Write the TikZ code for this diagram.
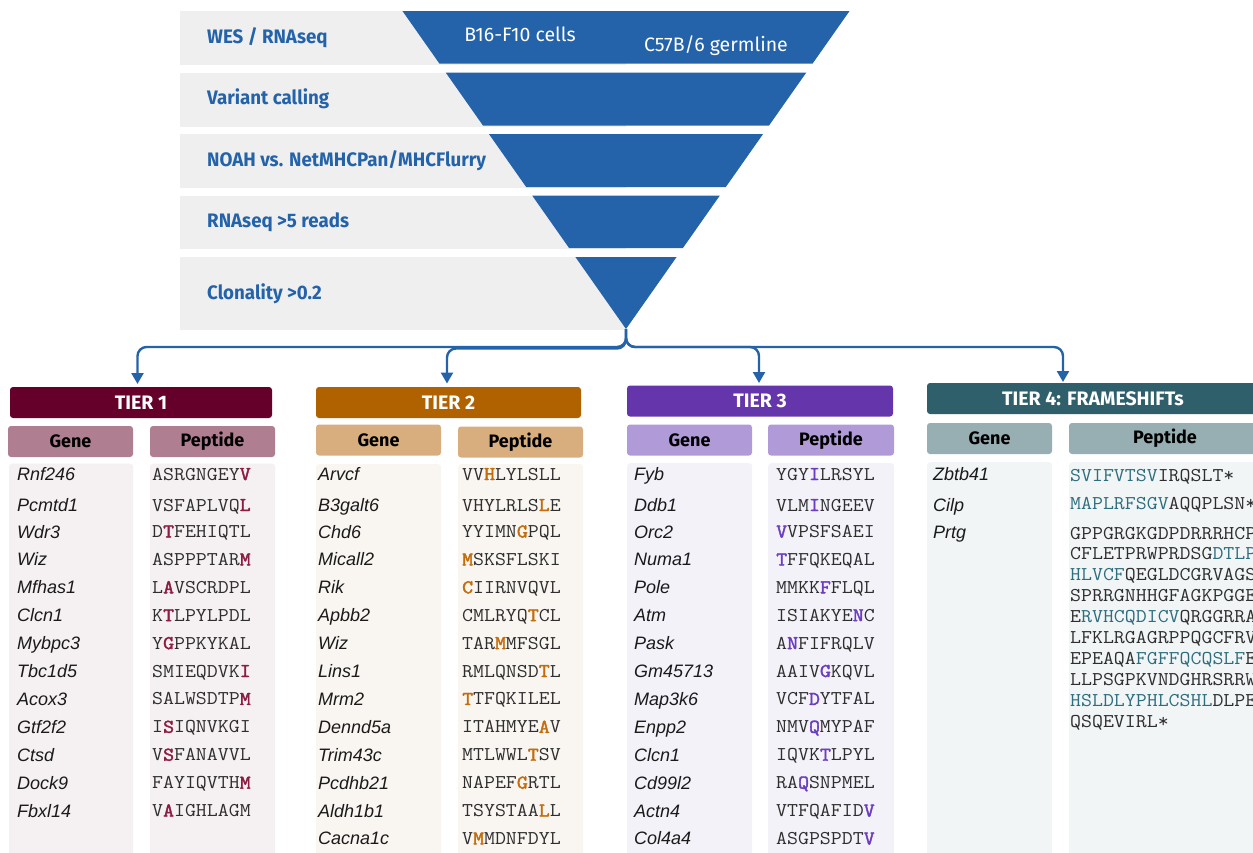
\documentclass[tikz,border=0pt]{standalone}
\usepackage{fontspec}
\setmainfont{Liberation Sans}
\newfontfamily\condfont[FakeStretch=0.96]{Fira Sans}
\newfontfamily\hdrfont{Fira Sans}
\newfontfamily\pepfont[FakeStretch=1.09]{Latin Modern Mono}
\newfontfamily\pepbfont[FakeStretch=1.09,FakeBold=2]{Latin Modern Mono}
\usetikzlibrary{arrows.meta}
\definecolor{fblue}{HTML}{2463A9}
\definecolor{bandgray}{HTML}{EFEFEF}
\definecolor{tAd}{HTML}{65002B}
\definecolor{tAh}{HTML}{B07E91}
\definecolor{tAb}{HTML}{F5F0F2}
\definecolor{tAx}{HTML}{8C1C41}
\definecolor{tBd}{HTML}{B06200}
\definecolor{tBh}{HTML}{D8AE7E}
\definecolor{tBb}{HTML}{F9F6F2}
\definecolor{tBx}{HTML}{C46C0C}
\definecolor{tCd}{HTML}{6535AB}
\definecolor{tCh}{HTML}{B09AD7}
\definecolor{tCb}{HTML}{F4F2F9}
\definecolor{tCx}{HTML}{6B3DC0}
\definecolor{tDd}{HTML}{2F5F6A}
\definecolor{tDh}{HTML}{97AEB2}
\definecolor{tDb}{HTML}{F1F5F6}
\definecolor{tDx}{HTML}{2E6D7D}
\definecolor{genetxt}{HTML}{1A1A1A}
\definecolor{peptxt}{HTML}{2E2E2E}
\newcommand\hlA[1]{{\pepbfont\color{tAx}#1}}
\newcommand\hlB[1]{{\pepbfont\color{tBx}#1}}
\newcommand\hlC[1]{{\pepbfont\color{tCx}#1}}
\newcommand\hlD[1]{{\color{tDx}#1}}
\tikzset{
  tierhdr/.style={rounded corners=3pt, minimum height=31pt, inner sep=0pt, text=white,
    font=\hdrfont\bfseries\fontsize{19.5}{22}\selectfont},
  colhdr/.style={rounded corners=3pt, minimum height=31pt, inner sep=0pt, text=black,
    font=\hdrfont\bfseries\fontsize{18}{20}\selectfont},
  bodybox/.style={rounded corners=3pt, anchor=north west, inner sep=0pt, minimum height=400pt},
  gene/.style={anchor=base west, inner sep=0pt, text=genetxt, font=\itshape\fontsize{18}{20}\selectfont},
  pep/.style={anchor=base west, inner sep=0pt, text=peptxt, font=\pepfont\fontsize{19.5}{21}\selectfont},
  flabel/.style={anchor=west, inner sep=0pt, text=fblue, font=\condfont\bfseries\fontsize{19.5}{22}\selectfont},
  finner/.style={inner sep=0pt, text=white, font=\hdrfont\fontsize{19.5}{22}\selectfont},
  conn/.style={draw=fblue, line width=2.4pt, rounded corners=9pt, -{Triangle[width=12pt,length=11pt]}}
}
\begin{document}
\begin{tikzpicture}[x=1pt,y=-1pt]
\useasboundingbox (0,0) rectangle (1253,852);
\begin{scope}
\clip (0,0) rectangle (1253,852);
% funnel
\foreach \t/\b in {11/63.5,72.5/125.5,134/187,195.5/248,257/329}{
  \fill[bandgray] (180,\t) rectangle (626,\b+1);
  \pgfmathsetmacro\lt{626-(329-\t)*0.703}
  \pgfmathsetmacro\rt{626+(329-\t)*0.703}
  \pgfmathsetmacro\lb{626-(329-\b)*0.703}
  \pgfmathsetmacro\rb{626+(329-\b)*0.703}
  \fill[fblue] (\lt,\t) -- (\rt,\t) -- (\rb,\b) -- (\lb,\b) -- cycle;
}
\coordinate (apex) at (626,329);
\node[flabel] (f1) at (207,38) {WES / RNAseq};
\node[flabel] (f2) at (207,99) {Variant calling};
\node[flabel] (f3) at (207,161) {NOAH vs. NetMHCPan/MHCFlurry};
\node[flabel] (f4) at (207,222) {RNAseq >5 reads};
\node[flabel] (f5) at (207,294) {Clonality >0.2};
\node[finner] (c1) at (520,34) {B16-F10 cells};
\node[finner] (c2) at (716,46) {C57B/6 germline};

% tier headers
\node[tierhdr, fill=tAd, minimum width=262pt] (t1) at (141,402.5) {TIER 1};
\node[tierhdr, fill=tBd, minimum width=265pt] (t2) at (448.5,402.5) {TIER 2};
\node[tierhdr, fill=tCd, minimum width=266pt] (t3) at (760,401) {TIER 3};
\node[tierhdr, fill=tDd, minimum width=332pt] (t4) at (1093,398.5) {TIER 4: FRAMESHIFTs};

% connectors
\coordinate (a1) at (137.5,384);
\coordinate (a2) at (447,383.5);
\coordinate (a3) at (759,383);
\coordinate (a4) at (1063,382);
\draw[conn] (apex) -- ++(0,18) -| (a1);
\draw[conn] (apex) -- ++(0,19.5) -| (a2);
\draw[conn] (apex) -- ++(0,18) -| (a3);
\draw[conn] (apex) -- ++(0,18) -| (a4);

% column headers
\node[colhdr, fill=tAh, minimum width=125pt] (g1h) at (70.5,441.5) {Gene};
\node[colhdr, fill=tAh, minimum width=125pt] (p1h) at (212.5,441.5) {Peptide};
\node[colhdr, fill=tBh, minimum width=125pt] (g2h) at (378.5,440) {Gene};
\node[colhdr, fill=tBh, minimum width=125pt] (p2h) at (520.5,442) {Peptide};
\node[colhdr, fill=tCh, minimum width=125pt] (g3h) at (689.5,440) {Gene};
\node[colhdr, fill=tCh, minimum width=126pt] (p3h) at (831,440) {Peptide};
\node[colhdr, fill=tDh, minimum width=125pt] (g4h) at (989.5,438.5) {Gene};
\node[colhdr, fill=tDh, minimum width=192pt] (p4h) at (1165,438.5) {Peptide};

% bodies
\node[bodybox, fill=tAb, minimum width=124pt] (g1b) at (9,463.5) {};
\node[bodybox, fill=tAb, minimum width=125pt] (p1b) at (150,463.5) {};
\node[bodybox, fill=tBb, minimum width=125pt] (g2b) at (316,464) {};
\node[bodybox, fill=tBb, minimum width=125pt] (p2b) at (458,464) {};
\node[bodybox, fill=tCb, minimum width=125pt] (g3b) at (627,463) {};
\node[bodybox, fill=tCb, minimum width=126pt] (p3b) at (768,463) {};
\node[bodybox, fill=tDb, minimum width=125pt] (g4b) at (927,462) {};
\node[bodybox, fill=tDb, minimum width=192pt] (p4b) at (1069,462) {};

% tier 1 rows
\foreach \g/\p [count=\i] in {Rnf246/ASRGNGEY\hlA{V},Pcmtd1/VSFAPLVQ\hlA{L},Wdr3/D\hlA{T}FEHIQTL,
  Wiz/ASPPPTAR\hlA{M},Mfhas1/L\hlA{A}VSCRDPL,Clcn1/K\hlA{T}LPYLPDL,Mybpc3/Y\hlA{G}PPKYKAL,
  Tbc1d5/SMIEQDVK\hlA{I},Acox3/SALWSDTP\hlA{M},Gtf2f2/I\hlA{S}IQNVKGI,Ctsd/V\hlA{S}FANAVVL,
  Dock9/FAYIQVTH\hlA{M},Fbxl14/V\hlA{A}IGHLAGM}{
  \pgfmathsetmacro\yy{\i==1?474:(\i==2?505:531.5+27.9*(\i-3))}
  \node[gene] (g1r\i) at (17,\yy+6.5) {\g};
  \node[pep] (p1r\i) at (152,\yy+6) {\p};
}
% tier 2 rows
\foreach \g/\p [count=\i] in {Arvcf/VV\hlB{H}LYLSLL,B3galt6/VHYLRLS\hlB{L}E,Chd6/YYIMN\hlB{G}PQL,
  Micall2/\hlB{M}SKSFLSKI,Rik/\hlB{C}IIRNVQVL,Apbb2/CMLRYQ\hlB{T}CL,Wiz/TAR\hlB{M}MFSGL,
  Lins1/RMLQNSD\hlB{T}L,Mrm2/\hlB{T}TFQKILEL,Dennd5a/ITAHMYE\hlB{A}V,Trim43c/MTLWWL\hlB{T}SV,
  Pcdhb21/NAPEF\hlB{G}RTL,Aldh1b1/TSYSTAA\hlB{L}L,Cacna1c/V\hlB{M}MDNFDYL}{
  \pgfmathsetmacro\yy{\i==1?474:(\i==2?505:531.5+27.9*(\i-3))}
  \node[gene] (g2r\i) at (318,\yy+6.5) {\g};
  \node[pep] (p2r\i) at (462,\yy+6) {\p};
}
% tier 3 rows
\foreach \g/\p [count=\i] in {Fyb/YGY\hlC{I}LRSYL,Ddb1/VLM\hlC{I}NGEEV,Orc2/\hlC{V}VPSFSAEI,
  Numa1/\hlC{T}FFQKEQAL,Pole/MMKK\hlC{F}FLQL,Atm/ISIAKYE\hlC{N}C,Pask/A\hlC{N}FIFRQLV,
  Gm45713/AAIV\hlC{G}KQVL,Map3k6/VCF\hlC{D}YTFAL,Enpp2/NMV\hlC{Q}MYPAF,Clcn1/IQVK\hlC{T}LPYL,
  Cd99l2/RA\hlC{Q}SNPMEL,Actn4/VTFQAFID\hlC{V},Col4a4/ASGPSPDT\hlC{V}}{
  \pgfmathsetmacro\yy{\i==1?474:(\i==2?505:531.5+27.9*(\i-3))}
  \node[gene] (g3r\i) at (634,\yy+6.5) {\g};
  \node[pep] (p3r\i) at (776,\yy+6) {\p};
}
% tier 4
\node[gene] (g4r1) at (933,480.5) {Zbtb41};
\node[gene] (g4r2) at (933,511.5) {Cilp};
\node[gene] (g4r3) at (933,538) {Prtg};
\node[pep] (p4r1) at (1070,481) {\hlD{SVIFVTSV}IRQSLT*};
\node[pep] (p4r2) at (1070,509) {\hlD{MAPLRFSGV}AQQPLSN*};
\foreach \p [count=\i] in {GPPGRGKGDPDRRRHCP,CFLETPRWPRDSG\hlD{DTLP},\hlD{HLVCF}QEGLDCGRVAGS,
  SPRRGNHHGFAGKPGGE,E\hlD{RVHCQDICV}QRGGRRA,LFKLRGAGRPPQGCFRV,EPEAQA\hlD{FGFFQCQSLF}E,
  LLPSGPKVNDGHRSRRW,\hlD{HSLDLYPHLCSHL}DLPE,QSQEVIRL*}{
  \node[pep] (p4s\i) at (1070,539+20.9*\i-20.9) {\p};
}
\end{scope}
\end{tikzpicture}
\end{document}
